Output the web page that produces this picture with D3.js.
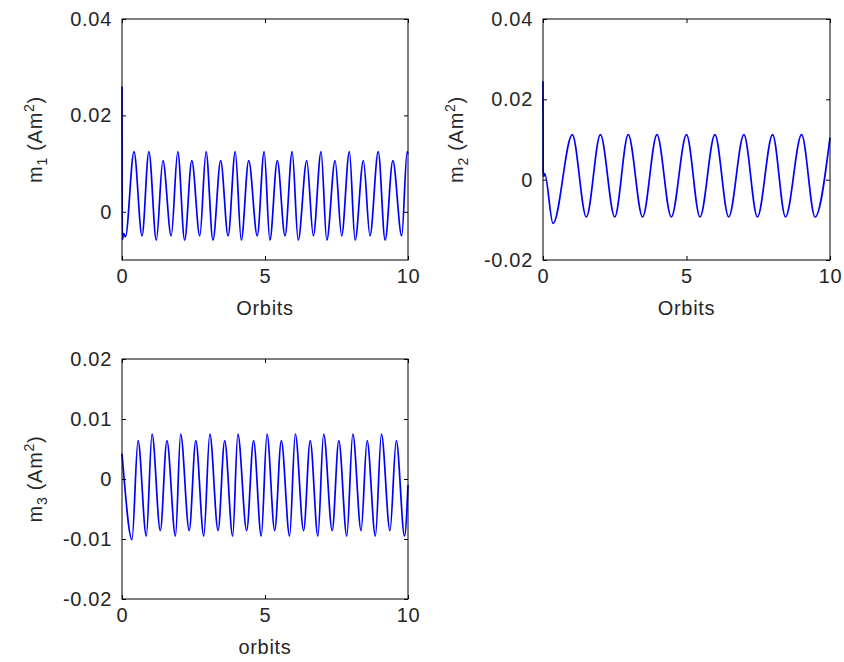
<!DOCTYPE html>
<html>
<head>
<meta charset="utf-8">
<script src="https://cdn.jsdelivr.net/npm/d3@7"></script>
<style>
  body { margin: 0; background: #fff; }
  svg text { font-family: Arial, "Liberation Sans", sans-serif; fill: #262626; letter-spacing: 0.7px; }
</style>
</head>
<body>
<svg width="844" height="662"></svg>
<script>
// m1 (Am^2) against orbits, peaks and troughs
var m1Orbits = [0, 0.01, 0.06, 0.12, 0.42, 0.7, 0.94, 1.2, 1.43, 1.72, 1.95, 2.19, 2.44, 2.72, 2.94,
                3.18, 3.45, 3.71, 3.96, 4.17, 4.43, 4.73, 4.97, 5.17, 5.43, 5.7, 5.95, 6.16, 6.46,
                6.69, 6.96, 7.16, 7.45, 7.68, 7.95, 8.15, 8.44, 8.67, 8.96, 9.2, 9.47, 9.78, 9.97, 10];
var m1Values = [0.026, -0.0058, -0.0045, -0.0052, 0.0125, -0.005, 0.0125, -0.0059, 0.0106, -0.005, 0.0125,
                -0.0059, 0.0106, -0.005, 0.0125, -0.0059, 0.0106, -0.005, 0.0125, -0.0059, 0.0106,
                -0.005, 0.0125, -0.0059, 0.0106, -0.005, 0.0125, -0.0059, 0.0106, -0.005, 0.0125,
                -0.0059, 0.0106, -0.005, 0.0125, -0.0059, 0.0106, -0.005, 0.0125, -0.0059, 0.0106,
                -0.005, 0.0125, 0.012];

// m2
var m2Orbits = [0, 0.005, 0.03, 0.06, 0.35, 1.02, 1.51, 2.0, 2.5, 2.97, 3.47, 3.97, 4.47, 5.0, 5.47,
                5.99, 6.47, 7.0, 7.47, 8.0, 8.45, 9.01, 9.48, 10];
var m2Values = [0.0245, 0.0022, 0.0008, 0.0015, -0.0109, 0.0112, -0.0093, 0.0112, -0.0093, 0.0112,
                -0.0093, 0.0112, -0.0093, 0.0112, -0.0093, 0.0112, -0.0093, 0.0112, -0.0093, 0.0112,
                -0.0093, 0.0112, -0.0093, 0.0105];

// m3
var m3Orbits = [0, 0.03, 0.35, 0.56, 0.85, 1.05, 1.34, 1.57, 1.87, 2.05, 2.35, 2.58, 2.86, 3.07, 3.36,
                3.59, 3.87, 4.05, 4.36, 4.6, 4.87, 5.07, 5.34, 5.57, 5.86, 6.06, 6.35, 6.58, 6.85,
                7.05, 7.35, 7.58, 7.86, 8.07, 8.36, 8.57, 8.86, 9.07, 9.37, 9.59, 9.88, 10];
var m3Values = [0.0042, 0.0025, -0.0101, 0.0064, -0.0095, 0.0075, -0.0086, 0.0064, -0.0095, 0.0075,
                -0.0086, 0.0064, -0.0095, 0.0075, -0.0086, 0.0064, -0.0095, 0.0075, -0.0086, 0.0064,
                -0.0095, 0.0075, -0.0086, 0.0064, -0.0095, 0.0075, -0.0086, 0.0064, -0.0095, 0.0075,
                -0.0086, 0.0064, -0.0095, 0.0075, -0.0086, 0.0064, -0.0095, 0.0075, -0.0086, 0.0064,
                -0.0095, -0.001];

var xTicks = [0, 5, 10];
var m1Ticks = [0, 0.02, 0.04];
var m2Ticks = [-0.02, 0, 0.02, 0.04];
var m3Ticks = [-0.02, -0.01, 0, 0.01, 0.02];

var svg = d3.select("svg");

var panels = [
    { x: m1Orbits, y: m1Values, yDomain: [-0.01, 0.04], yTicks: m1Ticks, sub: "1", xLabel: "Orbits",
      left: 122, right: 408, top: 19, bottom: 260 },
    { x: m2Orbits, y: m2Values, yDomain: [-0.02, 0.04], yTicks: m2Ticks, sub: "2", xLabel: "Orbits",
      left: 543, right: 830, top: 19, bottom: 260 },
    { x: m3Orbits, y: m3Values, yDomain: [-0.02, 0.02], yTicks: m3Ticks, sub: "3", xLabel: "orbits",
      left: 122, right: 408, top: 359, bottom: 599 }
];

panels.forEach(drawPanel);

function drawPanel(p) {
    var x = d3.scaleLinear().domain([0, 10]).range([p.left, p.right]);
    var y = d3.scaleLinear().domain(p.yDomain).range([p.bottom, p.top]);
    var fmt = function(d) { return d === 0 ? "0" : String(d); };

    var g = svg.append("g");

    // data line
    var line = d3.line()
        .x(function(d) { return x(d[0]); })
        .y(function(d) { return y(d[1]); })
        .curve(d3.curveMonotoneX);
    g.append("path")
        .datum(d3.zip(p.x, p.y))
        .attr("d", line)
        .attr("fill", "none")
        .attr("stroke", "#0000ff")
        .attr("stroke-width", 1.7);

    // axes, ticks pointing inwards on all four sides
    var axes = [
        { a: d3.axisBottom(x).tickValues(xTicks).tickFormat(fmt).tickSize(-4).tickPadding(9), t: "translate(0," + p.bottom + ")" },
        { a: d3.axisTop(x).tickValues(xTicks).tickFormat("").tickSize(-4), t: "translate(0," + p.top + ")" },
        { a: d3.axisLeft(y).tickValues(p.yTicks).tickFormat(fmt).tickSize(-4).tickPadding(10), t: "translate(" + p.left + ",0)" },
        { a: d3.axisRight(y).tickValues(p.yTicks).tickFormat("").tickSize(-4), t: "translate(" + p.right + ",0)" }
    ];
    axes.forEach(function(ax) {
        var ag = g.append("g").attr("transform", ax.t).call(ax.a);
        ag.select(".domain").remove();
        ag.selectAll("line").attr("stroke", "#000");
        ag.selectAll("text").attr("font-size", 20).attr("fill", "#262626")
          .attr("font-family", "Arial, 'Liberation Sans', sans-serif");
    });

    // box
    g.append("rect")
        .attr("x", p.left).attr("y", p.top)
        .attr("width", p.right - p.left).attr("height", p.bottom - p.top)
        .attr("fill", "none").attr("stroke", "#000").attr("stroke-width", 1);

    // x label
    g.append("text")
        .attr("x", (p.left + p.right) / 2)
        .attr("y", p.bottom + 55)
        .attr("text-anchor", "middle")
        .attr("font-size", 20)
        .text(p.xLabel);

    // y label m_n (Am^2)
    var cy = (p.top + p.bottom) / 2;
    var yl = g.append("text")
        .attr("transform", "translate(" + (p.left - 80) + "," + cy + ") rotate(-90)")
        .attr("text-anchor", "middle")
        .attr("font-size", 20);
    yl.append("tspan").text("m");
    yl.append("tspan").attr("font-size", 14).attr("dy", 5).text(p.sub);
    yl.append("tspan").attr("dy", -5).text(" (Am");
    yl.append("tspan").attr("font-size", 14).attr("dy", -8).text("2");
    yl.append("tspan").attr("dy", 8).text(")");
}
</script>
</body>
</html>
